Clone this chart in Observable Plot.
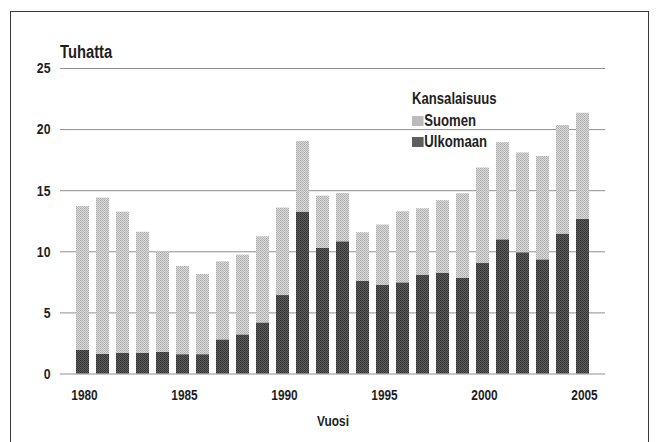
<!DOCTYPE html>
<html>
<head>
<meta charset="utf-8">
<script src="https://cdn.jsdelivr.net/npm/d3@7"></script>
<script src="https://cdn.jsdelivr.net/npm/@observablehq/plot@0.6"></script>
<style>
  html, body { margin: 0; padding: 0; background: #fff; }
  body { width: 658px; height: 442px; position: relative; overflow: hidden;
         font-family: "Liberation Sans", Arial, sans-serif; color: #1e1e1e; }
  #frame { position: absolute; left: 10px; top: 11px; width: 639px; height: 440px; border: 1.5px solid #3a3a3a; box-sizing: border-box; }
  #chart { position: absolute; left: 0; top: 0; }
  .lbl { position: absolute; font-weight: bold; white-space: nowrap; transform: scaleX(0.82); transform-origin: left top; }
  .sw { display: inline-block; width: 14px; height: 10px; margin-right: 1px; vertical-align: 0px; }
</style>
</head>
<body>
<div id="frame"></div>
<div id="chart"></div>
<div class="lbl" style="left:60px; top:42px; font-size:18px;">Tuhatta</div>
<div class="lbl" style="left:412px; top:88px; font-size:16px; line-height:21.5px;">
  <div>Kansalaisuus</div>
  <div><span class="sw" style="background:#d2d2d2;background-image:radial-gradient(#a0a0a0 0.6px, transparent 0.8px);background-size:2px 2px;"></span>Suomen</div>
  <div><span class="sw" style="background:#4a4a4a;background-image:radial-gradient(#777 0.6px, transparent 0.8px);background-size:2px 2px;"></span>Ulkomaan</div>
</div>
<script>
const years = d3.range(1980, 2006);
const total = [13.7, 14.4, 13.25, 11.6, 10.0, 8.8, 8.14, 9.18, 9.73, 11.23, 13.58, 19.04, 14.56, 14.78, 11.56, 12.19, 13.28, 13.52, 14.18, 14.75, 16.86, 18.93, 18.09, 17.8, 20.33, 21.34];
const ulkomaan = [1.94, 1.6, 1.7, 1.7, 1.78, 1.58, 1.58, 2.79, 3.2, 4.18, 6.42, 13.25, 10.27, 10.82, 7.57, 7.27, 7.46, 8.09, 8.25, 7.84, 9.04, 10.98, 9.92, 9.34, 11.45, 12.66];
const series = ["Ulkomaan", "Suomen"];
const xTicks = [1980, 1985, 1990, 1995, 2000, 2005];
const yTicks = [0, 5, 10, 15, 20, 25];

const data = [];
years.forEach((yr, i) => {
  data.push({year: yr, group: "Ulkomaan", value: ulkomaan[i]});
  data.push({year: yr, group: "Suomen", value: +(total[i] - ulkomaan[i]).toFixed(2)});
});

const chart = Plot.plot({
  width: 658,
  height: 442,
  marginLeft: 60,
  marginRight: 53,
  marginTop: 68,
  marginBottom: 68.5,
  style: {fontFamily: '"Liberation Sans", Arial, sans-serif', fontSize: "14px", fontWeight: "bold", color: "#1e1e1e", background: "transparent"},
  x: {type: "band", domain: years, padding: 0.33, label: null},
  y: {domain: [0, 25], label: null},
  color: {domain: series, range: ["url(#patDark)", "url(#patLight)"]},
  marks: [
    Plot.ruleY(yTicks, {stroke: "#8f8f8f", strokeWidth: 1}),
    Plot.barY(data, {x: "year", y: "value", fill: "group", order: series}),
    Plot.axisX({ticks: xTicks, tickFormat: d => String(d), tickSize: 0, tickPadding: 16, dx: 1.5, fontSize: 14.5, label: null}),
    Plot.axisY({ticks: yTicks, tickFormat: d => String(d), tickSize: 0, tickPadding: 10, fontSize: 15, label: null}),
    Plot.text(["Vuosi"], {frameAnchor: "bottom", dy: 52, fontSize: 14.5, fill: "#1e1e1e"})
  ]
});

const svgNS = "http://www.w3.org/2000/svg";
const defs = document.createElementNS(svgNS, "defs");
defs.innerHTML = `
<pattern id="patLight" width="2" height="2" patternUnits="userSpaceOnUse">
  <rect width="2" height="2" fill="#dadada"/>
  <rect width="1" height="1" fill="#adadad"/>
  <rect x="1" y="1" width="1" height="1" fill="#b6b6b6"/>
</pattern>
<pattern id="patDark" width="2" height="2" patternUnits="userSpaceOnUse">
  <rect width="2" height="2" fill="#5c5c5c"/>
  <rect width="1" height="1" fill="#333"/>
  <rect x="1" y="1" width="1" height="1" fill="#3a3a3a"/>
</pattern>`;
chart.insertBefore(defs, chart.firstChild);
// Emulate a narrow typeface: squeeze each text horizontally around its anchor
chart.querySelectorAll("text").forEach(t => {
  const tr = t.getAttribute("transform") || "";
  t.setAttribute("transform", (tr + " scale(0.82,1)").trim());
});
document.getElementById("chart").appendChild(chart);
</script>
</body>
</html>
